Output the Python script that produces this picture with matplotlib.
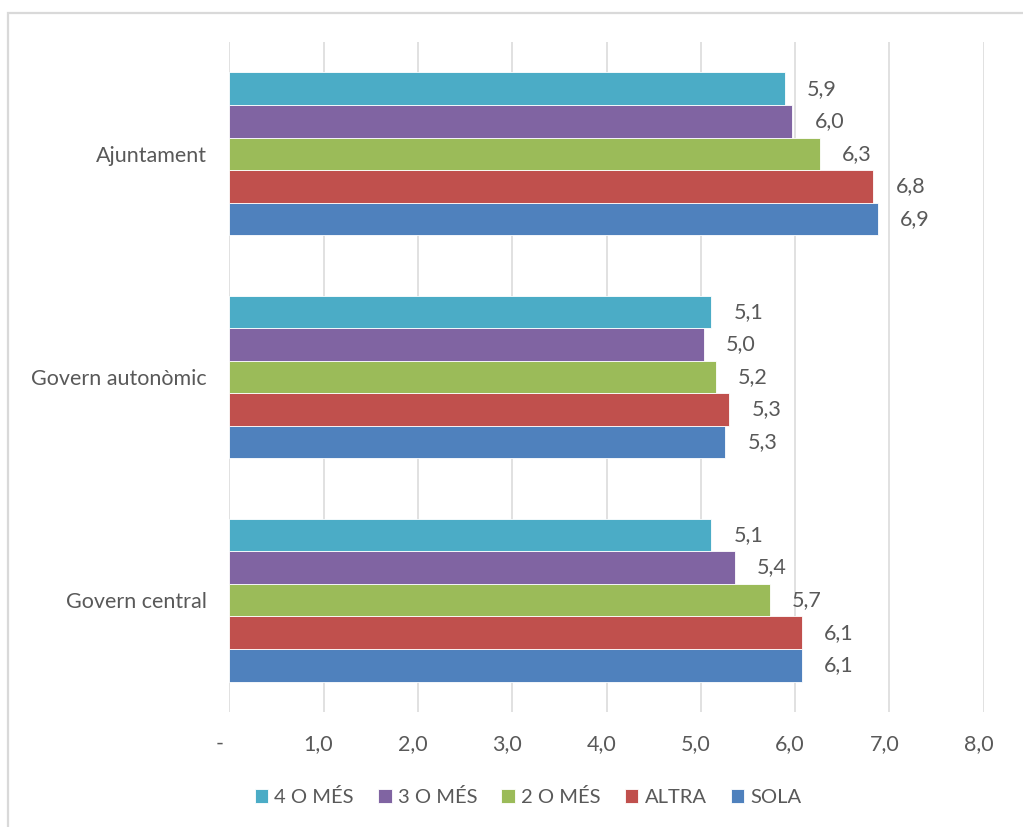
import matplotlib
matplotlib.use("Agg")
import matplotlib.pyplot as plt
import matplotlib.transforms as mtransforms
import numpy as np

plt.rcParams['font.family'] = ['Lato', 'DejaVu Sans']

categories = ["Govern central", "Govern autonòmic", "Ajuntament"]
series = ["SOLA", "ALTRA", "2 O MÉS", "3 O MÉS", "4 O MÉS"]
sola = [6.07, 5.26, 6.88]
altra = [6.07, 5.30, 6.83]
dos_o_mes = [5.73, 5.16, 6.26]
tres_o_mes = [5.36, 5.03, 5.97]
quatre_o_mes = [5.11, 5.11, 5.89]
xticks = [0, 1, 2, 3, 4, 5, 6, 7, 8]
xticklabels = ["-", "1,0", "2,0", "3,0", "4,0", "5,0", "6,0", "7,0", "8,0"]

values = [sola, altra, dos_o_mes, tres_o_mes, quatre_o_mes]
colors = ["#4F81BD", "#C0504D", "#9BBB59", "#8064A2", "#4BACC6"]
txt = "#595959"
fs = 15.5

fig = plt.figure(figsize=(10.23, 8.27), dpi=100)
ax = fig.add_axes([229.3 / 1023, 115.3 / 827, 754.4 / 1023, 669.4 / 827])

# chart border (top/left visible in the reference)
fig.patches.append(plt.Rectangle((7.5 / 1023, -0.1), 1.2, (827 - 12.5) / 827 + 0.1,
                                 transform=fig.transFigure, fill=False,
                                 edgecolor="#D9D9D9", linewidth=1.6))

h = 0.146
y = np.arange(len(categories))
bars = []
for i, (name, vals, c) in enumerate(zip(series, values, colors)):
    b = ax.barh(y + (i - 2) * h, vals, height=h, color=c, edgecolor="white",
                linewidth=0.6, label=name, zorder=3)
    bars.append(b)
    for yy, v in zip(y + (i - 2) * h, vals):
        ax.annotate(f"{v:.1f}".replace(".", ","), (v, yy), xytext=(16, 0),
                    textcoords="offset points", ha="left", va="center",
                    fontsize=fs, color=txt)

ax.set_xlim(0, 8)
ax.set_ylim(-0.5, 2.5)
ax.set_xticks(xticks)
ax.set_xticklabels(xticklabels)
ax.set_yticks(y)
ax.set_yticklabels(categories)
ax.tick_params(axis="x", length=0, pad=16, labelsize=fs, labelcolor=txt)
ax.tick_params(axis="y", length=0, pad=16, labelsize=fs, labelcolor=txt)
ax.grid(axis="x", color="#D9D9D9", linewidth=1.1, zorder=0)
ax.set_axisbelow(True)
for s in ax.spines.values():
    s.set_visible(False)

# accounting-format padding shifts the labels a little to the left
for lab in ax.get_xticklabels():
    dx = -10 if lab.get_text() == "-" else -5
    lab.set_transform(lab.get_transform() +
                      mtransforms.ScaledTranslation(dx / 100, 0, fig.dpi_scale_trans))

handles = bars[::-1]
fig.legend(handles, [b.get_label() for b in handles], loc="center",
           bbox_to_anchor=(528 / 1023, 1 - 797 / 827), ncol=5, frameon=False,
           fontsize=14.5, labelcolor=txt, handlelength=0.68, handleheight=0.68,
           handletextpad=0.3, columnspacing=1.2)

fig.savefig("out.png", dpi=100)
